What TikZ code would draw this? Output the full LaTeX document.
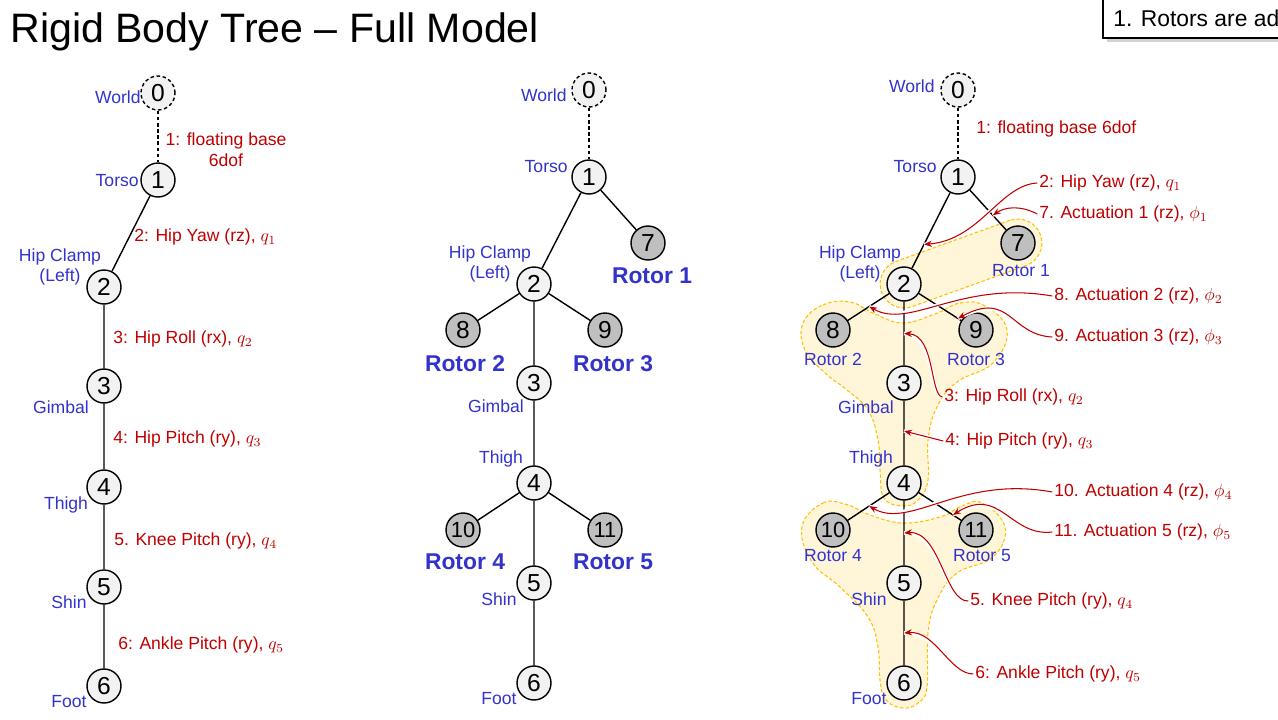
\documentclass[tikz,border=0pt]{standalone}
\usepackage{fontspec}
\setmainfont{Liberation Sans}
\usetikzlibrary{calc,shadows,arrows.meta}
\definecolor{lnkblue}{RGB}{51,51,204}
\definecolor{jntred}{RGB}{192,0,0}
\definecolor{blobfill}{RGB}{255,246,218}
\definecolor{blobline}{RGB}{255,192,0}
\tikzset{
	body/.style={circle,draw,line width=0.8pt,fill=black!5,minimum size=0.68cm,inner sep=0pt,font=\fontsize{14}{16}\selectfont},
	rotor/.style={body,fill=black!25},
	rotorx/.style={rotor,font=\fontsize{12.5}{14}\selectfont},
	world/.style={body,dash pattern=on 2pt off 1.5pt},
	lnk/.style={text=lnkblue,font=\fontsize{10}{11.5}\selectfont,inner sep=0pt,align=center},
	rotorname/.style={text=lnkblue,font=\fontsize{13}{15}\selectfont\bfseries,inner sep=0pt},
	jnt/.style={text=jntred,font=\fontsize{10}{12}\selectfont,inner sep=0pt,anchor=west},
	edge/.style={line width=0.8pt},
	blob/.style={fill=blobfill,draw=blobline,dash pattern=on 2pt off 1.2pt,line width=0.6pt},
	callout/.style={draw=jntred,line width=0.6pt,-{Stealth[length=4.5pt,width=3.5pt]},preaction={draw=white,line width=2pt,-}},
}
\begin{document}
\begin{tikzpicture}[x=0.02cm,y=-0.02cm]
\useasboundingbox (0,0) rectangle (1278,720);
\clip (0,0) rectangle (1278,720);
\fill[white] (0,0) rectangle (1278,720);

% title and note
\node[anchor=base west,inner sep=0pt,font=\fontsize{23.4}{28}\selectfont] (title) at (10,42) {Rigid Body Tree – Full Model};
\draw[fill=white,line width=0.6pt,drop shadow={opacity=0.35,shadow xshift=2pt,shadow yshift=-2pt}] (1103,-10) rectangle (1300,38);
\node[anchor=base west,inner sep=0pt,font=\fontsize{13}{15}\selectfont] (note) at (1113,27) {1. Rotors are ad};

% left tree
\node[world] (a0) at (158,93) {0};
\node[body] (a1) at (158,180) {1};
\node[body] (a2) at (104,287) {2};
\node[body] (a3) at (104,386) {3};
\node[body] (a4) at (104,487) {4};
\node[body] (a5) at (104,587) {5};
\node[body] (a6) at (104,686) {6};
\draw[edge,dash pattern=on 2pt off 1.5pt] (a0) -- (a1);
\draw[edge] (a1) -- (a2) -- (a3) -- (a4) -- (a5) -- (a6);
\node[lnk,anchor=east] (a0n) at (141,97) {World};
\node[lnk,anchor=east] (a1n) at (139,181) {Torso};
\node[lnk] (a2n) at (60,267) {Hip Clamp\\(Left)};
\node[lnk] (a3n) at (61,407) {Gimbal};
\node[lnk] (a4n) at (66,505) {Thigh};
\node[lnk] (a5n) at (69,602) {Shin};
\node[lnk] (a6n) at (69,702) {Foot};
\node[jnt,anchor=center,align=center] (i1) at (226,150) {1: floating base\\6dof};
\node[jnt] (i2) at (134,237) {2: Hip Yaw (rz), $q_1$};
\node[jnt] (i3) at (113,339) {3: Hip Roll (rx), $q_2$};
\node[jnt] (i4) at (113,439) {4: Hip Pitch (ry), $q_3$};
\node[jnt] (i5) at (114,541) {5. Knee Pitch (ry), $q_4$};
\node[jnt] (i6) at (118,645) {6: Ankle Pitch (ry), $q_5$};

% middle tree
\node[world] (b0) at (589,90) {0};
\node[body] (b1) at (589,177) {1};
\node[rotor] (b7) at (648,243) {7};
\node[body] (b2) at (534,284) {2};
\node[rotor] (b8) at (463,330) {8};
\node[rotor] (b9) at (605,330) {9};
\node[body] (b3) at (534,383) {3};
\node[body] (b4) at (534,483) {4};
\node[rotorx] (b10) at (463,530) {10};
\node[rotorx] (b11) at (605,530) {11};
\node[body] (b5) at (534,583) {5};
\node[body] (b6) at (534,683) {6};
\draw[edge,dash pattern=on 2pt off 1.5pt] (b0) -- (b1);
\draw[edge] (b1) -- (b2) -- (b3) -- (b4) -- (b5) -- (b6);
\draw[edge] (b1) -- (b7);
\draw[edge] (b2) -- (b8);
\draw[edge] (b2) -- (b9);
\draw[edge] (b4) -- (b10);
\draw[edge] (b4) -- (b11);
\node[lnk,anchor=east] (b0n) at (567,95) {World};
\node[lnk,anchor=east] (b1n) at (568,167) {Torso};
\node[lnk] (b2n) at (490,264) {Hip Clamp\\(Left)};
\node[lnk] (b3n) at (496,406) {Gimbal};
\node[lnk] (b4n) at (501,459) {Thigh};
\node[lnk] (b5n) at (499,599) {Shin};
\node[lnk] (b6n) at (499,699) {Foot};
\node[rotorname] (b7n) at (652,276) {Rotor 1};
\node[rotorname] (b8n) at (465,364) {Rotor 2};
\node[rotorname] (b9n) at (613,364) {Rotor 3};
\node[rotorname] (b10n) at (465,562) {Rotor 4};
\node[rotorname] (b11n) at (613,562) {Rotor 5};

% right tree: rotor groups
\node[blob,rectangle,rounded corners=0.48cm,minimum width=3.38cm,minimum height=0.96cm,rotate=19.8] (g1) at (961,263.5) {};
\draw[blob] plot[smooth cycle,tension=0.7] coordinates {(803,323) (823,305) (850,302) (875,314) (903,323) (935,314) (960,303) (985,306) (1007,330) (993,363) (957,382) (937,407) (928,440) (928,480) (918,500) (903,506) (884,498) (880,470) (878,440) (868,410) (847,390) (825,373) (805,350)};
\draw[blob] plot[smooth cycle,tension=0.7] coordinates {(802,527) (823,503) (848,505) (870,515) (903,523) (940,517) (962,506) (982,503) (1005,527) (993,557) (957,573) (937,600) (928,633) (927,687) (918,703) (903,708) (886,700) (880,680) (878,647) (868,617) (840,587) (812,562)};

\node[world] (c0) at (958,90) {0};
\node[body] (c1) at (958,177) {1};
\node[rotor] (c7) at (1018,243) {7};
\node[body] (c2) at (904,284) {2};
\node[rotor] (c8) at (833,330) {8};
\node[rotor] (c9) at (976,330) {9};
\node[body] (c3) at (904,383) {3};
\node[body] (c4) at (904,483) {4};
\node[rotorx] (c10) at (833,530) {10};
\node[rotorx] (c11) at (976,530) {11};
\node[body] (c5) at (904,583) {5};
\node[body] (c6) at (904,683) {6};
\draw[edge,dash pattern=on 2pt off 1.5pt] (c0) -- (c1);
\draw[edge] (c1) -- (c2) -- (c3) -- (c4) -- (c5) -- (c6);
\draw[edge] (c1) -- (c7);
\draw[edge] (c2) -- (c8);
\draw[edge] (c2) -- (c9);
\draw[edge] (c4) -- (c10);
\draw[edge] (c4) -- (c11);
\node[lnk,anchor=east] (c0n) at (935,86) {World};
\node[lnk,anchor=east] (c1n) at (937,167) {Torso};
\node[lnk] (c2n) at (860,264) {Hip Clamp\\(Left)};
\node[lnk] (c3n) at (866,407) {Gimbal};
\node[lnk] (c4n) at (871,459) {Thigh};
\node[lnk] (c5n) at (869,599) {Shin};
\node[lnk] (c6n) at (869,699) {Foot};
\node[lnk] (c7n) at (1021,271) {Rotor 1};
\node[lnk] (c8n) at (833,359) {Rotor 2};
\node[lnk] (c9n) at (976,359) {Rotor 3};
\node[lnk] (c10n) at (833,556) {Rotor 4};
\node[lnk] (c11n) at (982,556) {Rotor 5};

% joint labels with callouts
\node[jnt] (j1) at (976,129) {1: floating base 6dof};
\node[jnt] (j2) at (1039,183) {2: Hip Yaw (rz), $q_1$};
\node[jnt] (j7) at (1039,214) {7. Actuation 1 (rz), $\phi_1$};
\node[jnt] (j8) at (1054,296) {8. Actuation 2 (rz), $\phi_2$};
\node[jnt] (j9) at (1054,337) {9. Actuation 3 (rz), $\phi_3$};
\node[jnt] (j3) at (944,397) {3: Hip Roll (rx), $q_2$};
\node[jnt] (j4) at (945,441) {4: Hip Pitch (ry), $q_3$};
\node[jnt] (j10) at (1054,492) {10. Actuation 4 (rz), $\phi_4$};
\node[jnt] (j11) at (1054,532) {11. Actuation 5 (rz), $\phi_5$};
\node[jnt] (j5) at (970,601) {5. Knee Pitch (ry), $q_4$};
\node[jnt] (j6) at (975,674) {6: Ankle Pitch (ry), $q_5$};

\coordinate (k12) at ($(c2)!.37!(c1)$);
\coordinate (k17) at ($(c1)!.58!(c7)$);
\coordinate (k28) at ($(c2)!.49!(c8)$);
\coordinate (k29) at ($(c2)!.75!(c9)$);
\coordinate (k23) at ($(c2)!.5!(c3)$);
\coordinate (k34) at ($(c3)!.48!(c4)$);
\coordinate (k410) at ($(c4)!.49!(c10)$);
\coordinate (k411) at ($(c4)!.68!(c11)$);
\coordinate (k45) at ($(c4)!.5!(c5)$);
\coordinate (k56) at ($(c5)!.5!(c6)$);

\draw[callout] ([xshift=-1pt]j2.west) .. controls (1000,185) and (980,240) .. (k12);
\draw[callout] ([xshift=-1pt]j7.west) .. controls (1020,205) and (1005,207) .. (k17);
\draw[callout] ([xshift=-1pt]j8.west) .. controls (960,280) and (910,330) .. (k28);
\draw[callout] ([xshift=-1pt]j9.west) .. controls (1010,335) and (1010,290) .. (k29);
\draw[callout] ([xshift=-1pt]j3.west) .. controls (930,395) and (935,335) .. (k23);
\draw[callout] ([xshift=-1pt]j4.west) -- (k34);
\draw[callout] ([xshift=-1pt]j10.west) .. controls (960,475) and (910,530) .. (k410);
\draw[callout] ([xshift=-1pt]j11.west) .. controls (1010,537) and (1000,485) .. (k411);
\draw[callout] ([xshift=-1pt]j5.west) .. controls (945,602) and (940,530) .. (k45);
\draw[callout] ([xshift=-1pt]j6.west) .. controls (950,674) and (935,630) .. (k56);
\end{tikzpicture}
\end{document}
